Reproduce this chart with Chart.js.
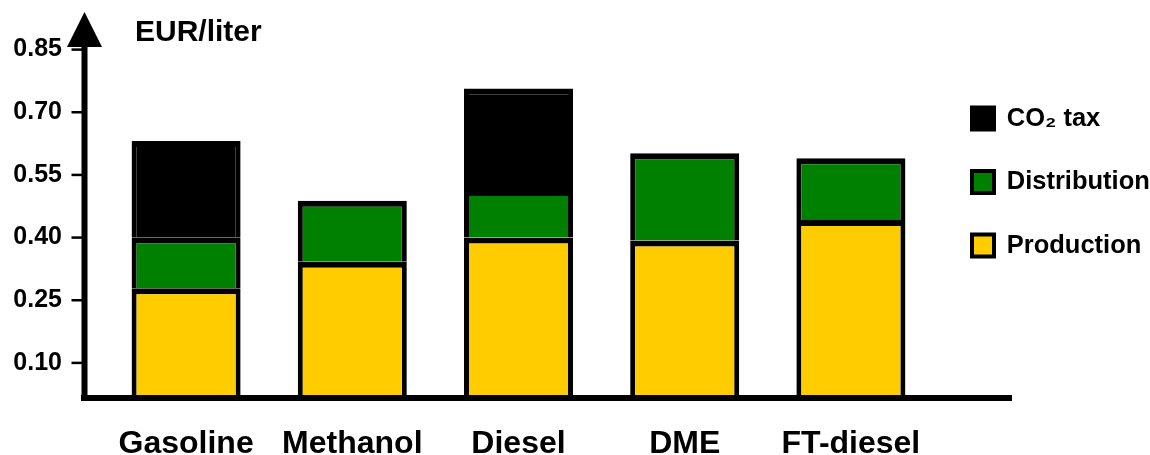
<!DOCTYPE html>
<html>
<head>
<meta charset="utf-8">
<script src="https://cdn.jsdelivr.net/npm/chart.js@4.4.0/dist/chart.umd.min.js"></script>
<style>
  body { margin: 0; background: #fff; }
</style>
</head>
<body>
<canvas id="fuel-cost-chart" width="1150" height="455"></canvas>
<script>
// values, EUR/liter
const fuels = ['Gasoline', 'Methanol', 'Diesel', 'DME', 'FT-diesel'];
const production = [0.279, 0.342, 0.400, 0.393, 0.442];
const distribution = [0.122, 0.146, 0.114, 0.209, 0.148];
const co2Tax = [0.230, null, 0.243, null, null];
const yTicks = [0.10, 0.25, 0.40, 0.55, 0.70, 0.85];

const FONT = "'Liberation Sans', Arial, sans-serif";
Chart.defaults.font.family = FONT;
Chart.defaults.font.weight = 'bold';
Chart.defaults.color = '#000';

const border = {top: 6, left: 5, right: 5, bottom: 0};

// black axes with the arrow on the y axis, tick marks and unit label
const arrowAxes = {
    id: 'arrowAxes',
    afterDatasetsDraw(chart) {
        const ctx = chart.ctx;
        const yScale = chart.scales.y;
        const area = chart.chartArea;
        const ax = area.left - 18.5;
        const base = area.bottom;
        ctx.save();
        ctx.fillStyle = '#000';
        ctx.fillRect(ax - 3.5, base - 3, 1012 - (ax - 3.5), 6);
        ctx.fillRect(ax - 3, 46, 6, base + 3 - 46);
        ctx.beginPath();
        ctx.moveTo(ax, 12);
        ctx.lineTo(ax - 17.5, 47);
        ctx.lineTo(ax + 17.5, 47);
        ctx.closePath();
        ctx.fill();
        yScale.ticks.forEach((t) => {
            const py = yScale.getPixelForValue(t.value);
            ctx.fillRect(ax - 13, py - 1.25, 11, 2.5);
        });
        ctx.font = 'bold 30px ' + FONT;
        ctx.textBaseline = 'middle';
        ctx.fillText('EUR/liter', 135, 33);
        ctx.restore();
    }
};

new Chart(document.getElementById('fuel-cost-chart'), {
    type: 'bar',
    data: {
        labels: fuels,
        datasets: [
            {
                label: 'Production',
                data: production,
                backgroundColor: '#FFCC00',
                borderColor: '#000',
                borderWidth: border,
            },
            {
                label: 'Distribution',
                data: distribution,
                backgroundColor: '#008000',
                borderColor: '#000',
                borderWidth: border,
            },
            {
                label: 'CO₂ tax',
                data: co2Tax,
                backgroundColor: '#000',
                borderColor: '#000',
                borderWidth: border,
            }
        ]
    },
    options: {
        responsive: false,
        animation: false,
        layout: { padding: { top: 12, left: 0, right: 0, bottom: 0 } },
        datasets: {
            bar: { categoryPercentage: 1, barPercentage: 0.656 }
        },
        plugins: {
            tooltip: { enabled: false },
            legend: {
                position: 'right',
                align: 'start',
                fullSize: false,
                reverse: true,
                maxWidth: 216,
                // empty title only pushes the items down
                title: { display: true, text: '', font: { size: 10 }, padding: { top: 43.75, bottom: 0 } },
                labels: {
                    boxWidth: 22,
                    boxHeight: 22,
                    padding: 38,
                    color: '#000',
                    font: { size: 25.5, weight: 'bold' }
                }
            }
        },
        scales: {
            x: {
                stacked: true,
                grid: { display: false, drawTicks: false },
                border: { display: false },
                ticks: { padding: 27, font: { size: 32, weight: 'bold' }, color: '#000' },
                afterFit(scale) { scale.height = 57; }
            },
            y: {
                stacked: true,
                min: 0.016,
                max: 0.94,
                grid: { display: false, drawTicks: false },
                border: { display: false },
                ticks: {
                    padding: 41,
                    font: { size: 25, weight: 'bold' },
                    color: '#000',
                    callback: (v) => v.toFixed(2)
                },
                afterBuildTicks(scale) {
                    scale.ticks = yTicks.map((v) => ({ value: v }));
                },
                afterFit(scale) {
                    scale.width = 103;
                    scale.paddingTop = 0;
                    scale.paddingBottom = 0;
                }
            }
        }
    },
    plugins: [arrowAxes]
});
</script>
</body>
</html>
